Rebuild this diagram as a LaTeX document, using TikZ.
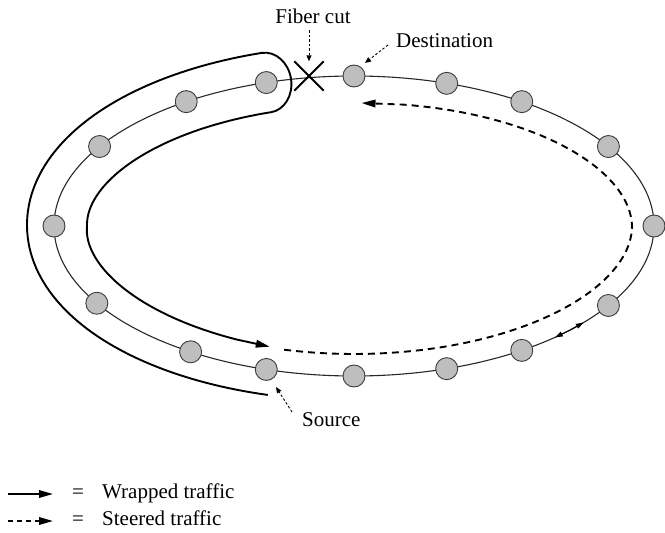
\documentclass[tikz,border=0pt]{standalone}
\usepackage{fontspec}
\setmainfont{Liberation Serif}
\usetikzlibrary{arrows.meta,calc}
\definecolor{nodegray}{RGB}{190,190,190}
\definecolor{nodeborder}{RGB}{60,60,60}
\definecolor{ringcol}{RGB}{40,40,40}
\begin{document}
\begin{tikzpicture}[x=1pt,y=-1pt,
  declare function={
    ex(\myA,\myD)=354+300*cos(\myA)+\myD*cos(\myA)/sqrt(cos(\myA)*cos(\myA)+4*sin(\myA)*sin(\myA));
    ey(\myA,\myD)=226+150*sin(\myA)+\myD*2*sin(\myA)/sqrt(cos(\myA)*cos(\myA)+4*sin(\myA)*sin(\myA));
  },
  ringnode/.style={circle, fill=nodegray, draw=nodeborder, line width=0.9pt, minimum size=22pt, inner sep=0pt},
  ringline/.style={draw=ringcol, line width=1.1pt},
  lbl/.style={font=\fontsize{21}{25}\selectfont, inner sep=0pt},
  bigtip/.style={-{Triangle[length=14pt,width=7.5pt]}},
  wrapline/.style={line width=1.9pt, line join=round},
  steerline/.style={line width=1.9pt, dash pattern=on 7pt off 5pt},
  legdash/.style={line width=1.9pt, dash pattern=on 5pt off 4pt},
  dotarrow/.style={line width=0.9pt, dash pattern=on 2.5pt off 2pt, -{Triangle[length=6pt,width=5pt]}},
  smalltip/.style={line width=1pt, -{Triangle[length=8pt,width=5pt]}},
  crossline/.style={line width=1.9pt},
  samples=50
]
\useasboundingbox (0,0) rectangle (665,533);

% ring
\draw[ringline] (354,226) ellipse [x radius=300, y radius=150];

% ring nodes (n1 = destination, clockwise)
\foreach \a [count=\i] in {270,288,304,328,0,32,56,72,90,107,123,149,180,212,236,253}
  \node[ringnode] (n\i) at ({354+300*cos(\a)},{226+150*sin(\a)}) {};

% small two-way arrows on the ring
\coordinate (sa0) at ({ex(44,0)},{ey(44,0)});
\coordinate (sa1) at ({ex(40,0)},{ey(40,0)});
\coordinate (sa2) at ({ex(48,0)},{ey(48,0)});
\draw[smalltip] (sa0) -- (sa1);
\draw[smalltip] (sa0) -- (sa2);

% fiber cut
\node[minimum size=29pt, inner sep=0pt] (cut) at (309,76) {};
\draw[crossline] (cut.north west) -- (cut.south east);
\draw[crossline] (cut.south west) -- (cut.north east);

% wrapped traffic
\coordinate (wtip) at (269.8,346.7);
\draw[wrapline, bigtip]
  plot[domain=106:180] ({ex(\x,25+2*(\x-106)/74)},{ey(\x,25+2*(\x-106)/74)})
  -- plot[domain=180:253] ({ex(\x,27+3*(\x-180)/73)},{ey(\x,27+3*(\x-180)/73)})
  .. controls (275.4,50.8) and (288.5,62.4) .. (291.0,78.8)
  .. controls (293.5,95.2) and (284.4,110.2) .. (270.8,112.3)
  -- plot[domain=253:180] ({ex(\x,-30-3*(253-\x)/73)},{ey(\x,-30-3*(253-\x)/73)})
  -- plot[domain=180:114] ({ex(\x,-23-10*(\x-107)/73)},{ey(\x,-23-10*(\x-107)/73)})
  -- (wtip);

% steered traffic
\coordinate (stip) at (361.5,103);
\draw[steerline, bigtip]
  plot[domain=104:0] ({ex(\x,-22)},{ey(\x,-22)})
  -- plot[domain=0:-80] ({ex(\x,\x/18-22)},{ey(\x,\x/18-22)})
  -- (stip);

% labels
\node[lbl, anchor=base] (fc) at (313,23) {Fiber cut};
\node[lbl, anchor=base west] (dst) at (396,47) {Destination};
\node[lbl, anchor=base west] (src) at (302,426) {Source};

\coordinate (fcA) at (309,30);
\draw[dotarrow] (fcA) -- (cut.north);
\coordinate (dA) at (388,45);
\coordinate (dT) at (365,63);
\draw[dotarrow] (dA) -- (dT);
\coordinate (sA) at (292,412);
\coordinate (sT) at (276,387);
\draw[dotarrow] (sA) -- (sT);

% legend
\coordinate (la1) at (8,494);
\coordinate (lb1) at (53,494);
\coordinate (la2) at (8,521);
\coordinate (lb2) at (53,521);
\draw[wrapline, bigtip] (la1) -- (lb1);
\draw[legdash, bigtip] (la2) -- (lb2);
\node[lbl, anchor=base] (eq1) at (78,498) {=};
\node[lbl, anchor=base west] (wt) at (102,498) {Wrapped traffic};
\node[lbl, anchor=base] (eq2) at (78,525) {=};
\node[lbl, anchor=base west] (st) at (102,525) {Steered traffic};
\end{tikzpicture}
\end{document}
